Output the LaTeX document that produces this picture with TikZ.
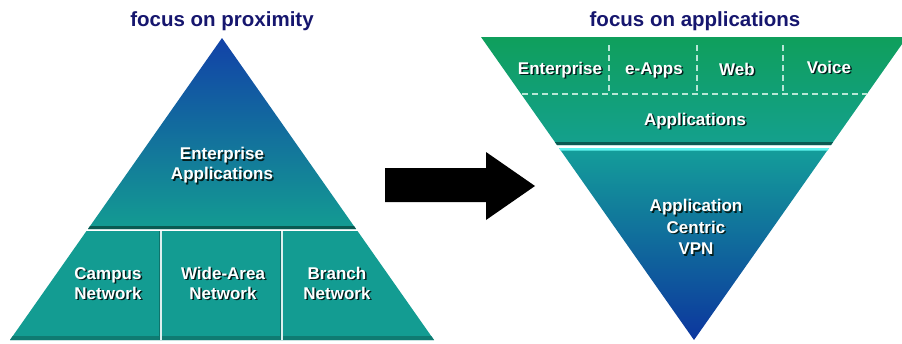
\documentclass[tikz,border=0pt]{standalone}
\usepackage{fontspec}
\setmainfont{Liberation Sans}
\definecolor{navytitle}{HTML}{16166E}
\definecolor{apexblue}{HTML}{1242A8}
\definecolor{midblue}{HTML}{17609C}
\definecolor{teal1}{HTML}{139C92}
\definecolor{tealdark}{HTML}{0A5A52}
\definecolor{appgreen}{HTML}{0F9F5C}
\definecolor{appteal}{HTML}{14A08E}
\definecolor{vpnteal}{HTML}{149E9A}
\definecolor{vpnmid}{HTML}{156C9C}
\definecolor{vpnblue}{HTML}{0C369E}
\definecolor{cyanline}{HTML}{5FF5F0}
\definecolor{dashcol}{HTML}{B8E6D6}
\definecolor{txtshadow}{HTML}{041E1C}
\newcommand{\shd}[1]{\leavevmode\rlap{\kern1.5pt\raisebox{-1.5pt}{\textcolor{txtshadow}{#1}}}#1}

\begin{document}
\begin{tikzpicture}
        [x=1pt, y=-1pt,
        lbl/.style={text=white, font=\bfseries\fontsize{17}{20}\selectfont, align=center, inner sep=0pt},
        ttl/.style={text=navytitle, font=\bfseries\fontsize{20.5}{24}\selectfont, anchor=base},
        sepline/.style={draw=white!85!teal1, line width=1.2pt},
        dashline/.style={draw=dashcol, line width=1.6pt, dash pattern=on 6pt off 4pt}]
        \useasboundingbox (0,0) rectangle (902,343);
        \coordinate (lapex) at (222,38);
        \coordinate (lml) at (88,229);
        \coordinate (lmr) at (356,229);
        \shade[top color=apexblue, middle color=midblue, bottom color=teal1]
           (lapex) -- (lmr) -- (lml) -- cycle;
        \fill[tealdark] (90,226) -- (354,226) -- (lmr) -- (lml) -- cycle;
        \fill[teal1] (86.5,231) -- (357.5,231) -- (434,340) -- (10,340) -- cycle;
        \fill[tealdark!50!teal1] (12.8,336) -- (431.2,336) -- (434,340) -- (10,340) -- cycle;
        \draw[tealdark!60!teal1, line width=1pt] (159.6,231) -- (159.6,340);
        \draw[tealdark!60!teal1, line width=1pt] (280.6,231) -- (280.6,340);
        \draw[sepline] (161,231) -- (161,340);
        \draw[sepline] (282,231) -- (282,340);
        \fill[black] (385,168) -- (486,168) -- (486,152) -- (535,186)
           -- (486,220) -- (486,202) -- (385,202) -- cycle;
        \begin{scope}
          \clip (0,0) rectangle (902,343);
          \shade[top color=appgreen, bottom color=appteal]
             (481,37) -- (907,37) -- (831,145) -- (557,145) -- cycle;
        \end{scope}
        \fill[tealdark] (554.8,142) -- (833.2,142) -- (831,145) -- (557,145) -- cycle;
        \shade[top color=vpnteal, middle color=vpnmid, bottom color=vpnblue]
           (559,148) -- (829,148) -- (694,340) -- cycle;
        \fill[cyanline] (559,148) -- (829,148) -- (827.6,150.5) -- (560.6,150.5) -- cycle;
        \draw[dashline] (522,94) -- (867,94);
        \foreach \xd in {609,697,783}
           \draw[dashline] (\xd,45) -- (\xd,94);
        \node (ttlprox) at (222,26) [ttl] {focus on proximity};
        \node (ttlapps) at (695,26) [ttl] {focus on applications};
        \node (entapps) at (222,166) [lbl] {\shd{Enterprise}\\\shd{Applications}};
        \node (campus) at (108,284) [lbl] {\shd{Campus}\\\shd{Network}};
        \node (widearea) at (223,284) [lbl] {\shd{Wide-Area}\\\shd{Network}};
        \node (branch) at (337,284) [lbl] {\shd{Branch}\\\shd{Network}};
        \node (enterprise) at (560,74) [lbl, anchor=base] {\shd{Enterprise}};
        \node (eapps) at (654,74) [lbl, anchor=base] {\shd{e-Apps}};
        \node (web) at (737,75) [lbl, anchor=base] {\shd{Web}};
        \node (voice) at (829,73) [lbl, anchor=base] {\shd{Voice}};
        \node (apps) at (695,125) [lbl, anchor=base] {\shd{Applications}};
        \node (vpn) at (696,228) [lbl, font=\bfseries\fontsize{17}{21.5}\selectfont]
           {\shd{Application}\\\shd{Centric}\\\shd{VPN}};
\end{tikzpicture}
\end{document}
